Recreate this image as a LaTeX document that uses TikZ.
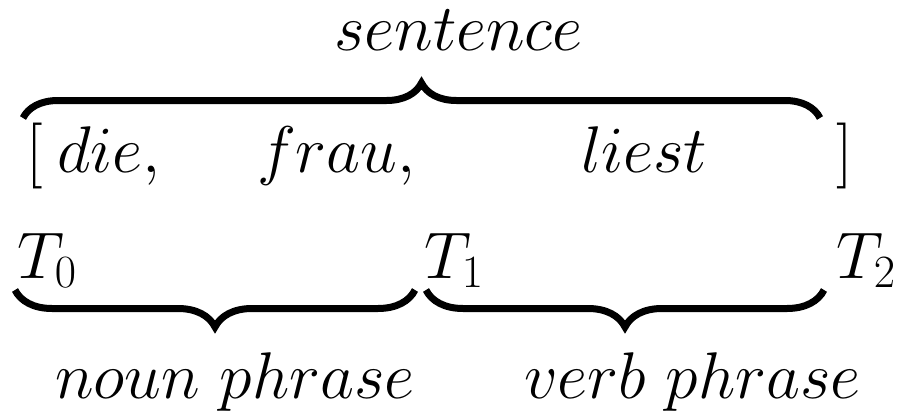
\RequirePackage{fix-cm}
\documentclass[tikz,border=0pt]{standalone}
\usetikzlibrary{decorations.pathreplacing}
\begin{document}
\begin{tikzpicture}[x=1pt,y=-1pt,
  txt/.style={inner sep=0pt,outer sep=0pt,anchor=base west,font=\fontsize{66}{72}\selectfont},
  brc/.style={decorate,decoration={brace,amplitude=#1},line width=7pt}]
\useasboundingbox (0,0) rectangle (904,415);
\node[txt,anchor=base] (sent) at (458.5,50) {$sentence$};
\node[txt] (lb) at (27,172) {$[$};
\node[txt] (die) at (57,172) {$die,$};
\node[txt] (frau) at (257,172) {$frau,$};
\node[txt] (liest) at (581,172) {$liest$};
\node[txt] (rb) at (836,172) {$]$};
\node[txt] (t0) at (17,278) {$T_0$};
\node[txt] (t1) at (424,278) {$T_1$};
\node[txt] (t2) at (836,278) {$T_2$};
\node[txt] (np) at (55,398) {$noun\ phrase$};
\node[txt] (vp) at (524,398) {$verb\ phrase$};
\coordinate (oa) at (23,118);
\coordinate (ob) at (820,118);
\coordinate (ua) at (15,290);
\coordinate (ub) at (415,290);
\coordinate (uc) at (426,290);
\coordinate (ud) at (824,290);
\draw[brc=35] (oa) -- (ob);
\draw[brc=37] (ub) -- (ua);
\draw[brc=37] (ud) -- (uc);
\end{tikzpicture}
\end{document}
